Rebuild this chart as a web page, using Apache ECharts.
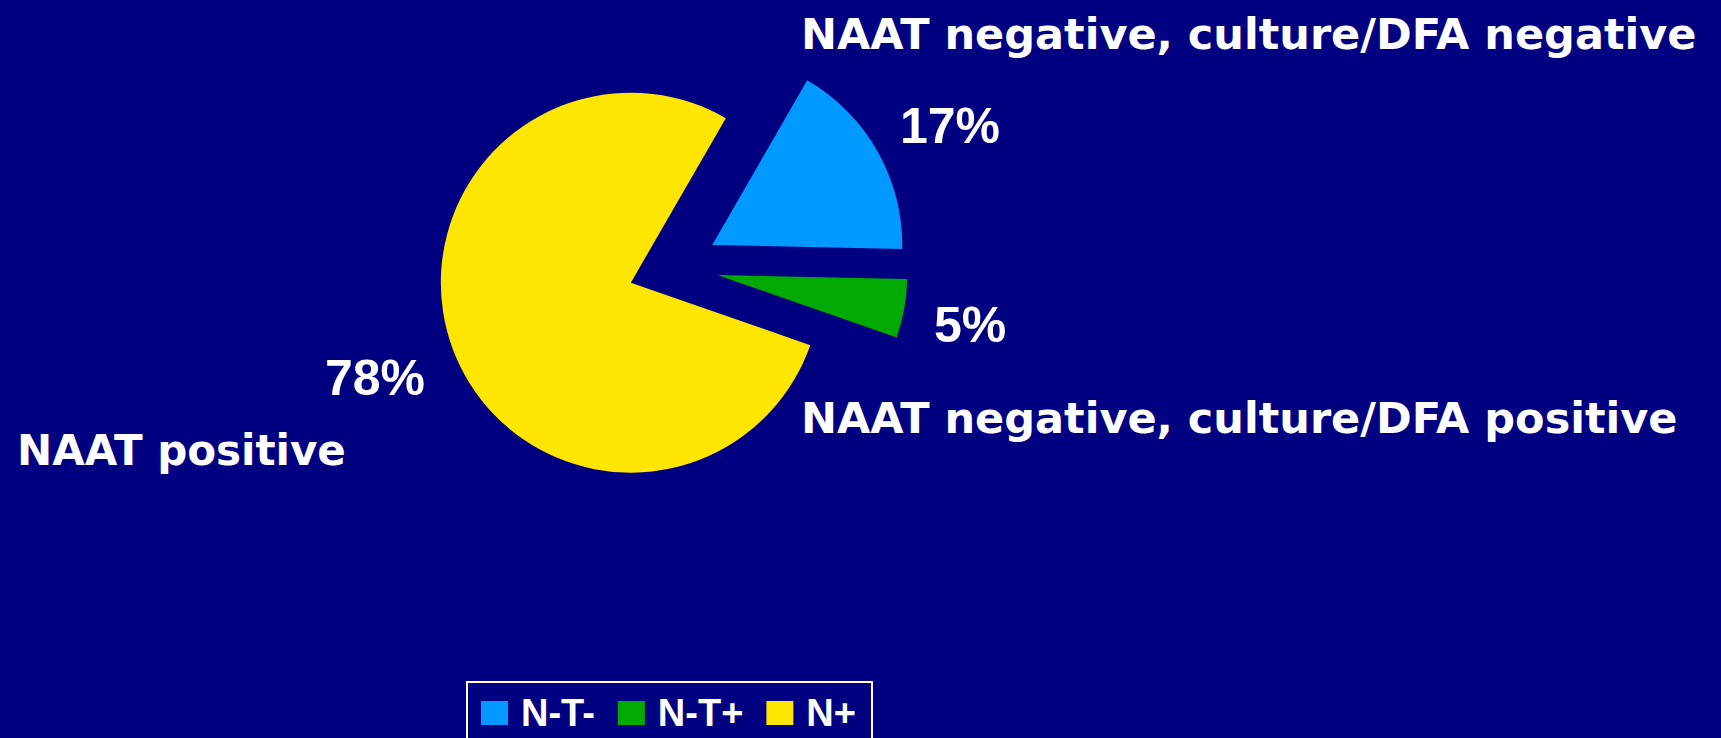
<!DOCTYPE html>
<html>
<head>
<meta charset="utf-8">
<script src="https://cdn.jsdelivr.net/npm/echarts@6/dist/echarts.min.js"></script>
<style>
html,body{margin:0;padding:0;background:#000080;overflow:hidden;}
#chart{width:1721px;height:738px;}
</style>
</head>
<body>
<div id="chart"></div>
<script>
// ---- data ----
const categories = ['N-T-', 'N-T+', 'N+'];
const values = [17, 5, 78];
const descriptions = [
  'NAAT negative, culture/DFA negative',
  'NAAT negative, culture/DFA positive',
  'NAAT positive'
];

// ---- styling / layout ----
const colors = ['#0099FF', '#00AA00', '#FFE600'];
const pctAnchors = [
  { x: 900, y: 126, align: 'left' },
  { x: 934, y: 325, align: 'left' },
  { x: 425, y: 378, align: 'right' }
];
const descAnchors = [
  { x: 801, y: 34 },
  { x: 801, y: 418 },
  { x: 17, y: 450 }
];

const chart = echarts.init(document.getElementById('chart'), null, { renderer: 'svg' });

const pctTexts = values.map((v, i) => ({
  type: 'text',
  x: pctAnchors[i].x,
  y: pctAnchors[i].y,
  silent: true,
  style: {
    text: v + '%',
    fill: '#FFFFFF',
    fontSize: 50,
    fontWeight: 'bold',
    fontFamily: '"Liberation Sans", Arial, sans-serif',
    align: pctAnchors[i].align,
    verticalAlign: 'middle'
  }
}));

const descTexts = descriptions.map((t, i) => ({
  type: 'text',
  x: descAnchors[i].x,
  y: descAnchors[i].y,
  silent: true,
  style: {
    text: t,
    fill: '#FFFFFF',
    fontSize: i === 2 ? 42 : 43,
    fontWeight: 'bold',
    fontFamily: '"DejaVu Sans", sans-serif',
    align: 'left',
    verticalAlign: 'middle'
  }
}));

const option = {
  backgroundColor: '#000080',
  animation: false,
  color: colors,
  legend: {
    data: categories,
    left: 467,
    top: 682,
    orient: 'horizontal',
    icon: 'rect',
    itemWidth: 27,
    itemHeight: 24,
    itemGap: 23,
    borderColor: '#FFFFFF',
    borderWidth: 2,
    padding: [12, 16, 12, 14],
    selectedMode: false,
    textStyle: {
      color: '#FFFFFF',
      fontSize: 38,
      fontWeight: 'bold',
      fontFamily: '"Liberation Sans", Arial, sans-serif',
      lineHeight: 38,
      padding: [0, 0, 0, 8]
    }
  },
  series: [{
    type: 'pie',
    center: [673, 267],
    radius: [0, 190],
    startAngle: 60,
    clockwise: true,
    selectedMode: 'multiple',
    selectedOffset: 45,
    emphasis: { disabled: true },
    itemStyle: { borderWidth: 0 },
    label: { show: false },
    labelLine: { show: false },
    data: categories.map((c, i) => ({ name: c, value: values[i], selected: true }))
  }],
  graphic: pctTexts.concat(descTexts)
};

chart.setOption(option);
</script>
</body>
</html>
